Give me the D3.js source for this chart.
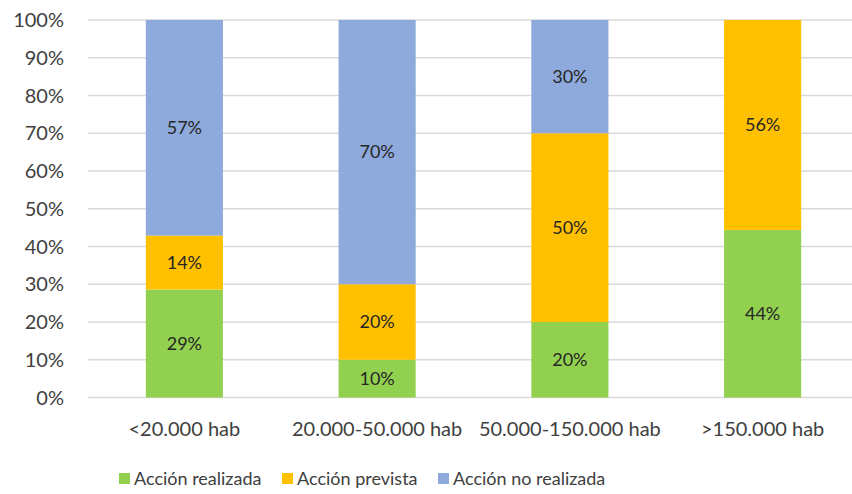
<!DOCTYPE html>
<html>
<head>
<meta charset="utf-8">
<script src="https://cdn.jsdelivr.net/npm/d3@7"></script>
<style>
  body { margin: 0; background: #fff; }
  text { font-family: Lato, "Open Sans", sans-serif; }
</style>
</head>
<body>
<div id="paper"></div>
<script>
// data
const categories = ["<20.000 hab", "20.000-50.000 hab", "50.000-150.000 hab", ">150.000 hab"];
const seriesNames = ["Acción realizada", "Acción prevista", "Acción no realizada"];
const realizada = [28.6, 10, 20, 44.4];
const prevista = [14.3, 20, 50, 55.6];
const noRealizada = [57.1, 70, 30, 0];
const yTicks = [0, 10, 20, 30, 40, 50, 60, 70, 80, 90, 100];
const colors = ["#92D050", "#FFC000", "#8EA9DB"];

const W = 852, H = 494;
const margin = {left: 88, right: -7, top: 20, bottom: 96};

const svg = d3.select("#paper")
  .append("svg")
  .attr("id", "canvas")
  .attr("width", W)
  .attr("height", H);

const x = d3.scaleBand()
  .domain(categories)
  .range([margin.left, W - margin.right])
  .paddingInner(0.6)
  .paddingOuter(0.3);

const y = d3.scaleLinear()
  .domain([0, 100])
  .range([H - margin.bottom - 0.5, margin.top]);

// gridlines
svg.selectAll(".grid")
  .data(yTicks)
  .join("line")
  .attr("class", "grid")
  .attr("x1", margin.left)
  .attr("x2", W - margin.right)
  .attr("y1", d => y(d))
  .attr("y2", d => y(d))
  .attr("stroke", "#d9d9d9")
  .attr("stroke-width", 1.5);

// y tick labels
svg.selectAll(".ytick")
  .data(yTicks)
  .join("text")
  .attr("class", "ytick")
  .attr("x", 64)
  .attr("y", d => y(d))
  .attr("dy", "0.35em")
  .attr("text-anchor", "end")
  .attr("font-size", "20px")
  .attr("fill", "#404040")
  .text(d => d + "%");

const rows = categories.map((c, i) => ({cat: c, s0: realizada[i], s1: prevista[i], s2: noRealizada[i]}));
const stack = d3.stack().keys(["s0", "s1", "s2"])(rows);

const layers = svg.selectAll(".layer")
  .data(stack)
  .join("g")
  .attr("class", "layer")
  .attr("fill", (d, i) => colors[i]);

layers.selectAll("rect")
  .data(d => d.filter(p => p[1] - p[0] > 0))
  .join("rect")
  .attr("x", d => x(d.data.cat))
  .attr("width", x.bandwidth())
  .attr("y", d => y(d[1]))
  .attr("height", d => y(d[0]) - y(d[1]));

layers.selectAll(".vlabel")
  .data(d => d.filter(p => p[1] - p[0] > 0))
  .join("text")
  .attr("class", "vlabel")
  .attr("x", d => x(d.data.cat) + x.bandwidth() / 2)
  .attr("y", d => y((d[0] + d[1]) / 2))
  .attr("dy", "0.35em")
  .attr("text-anchor", "middle")
  .attr("font-size", "18px")
  .attr("fill", "#262626")
  .text(d => Math.round(d[1] - d[0]) + "%");

// category labels
svg.selectAll(".xtick")
  .data(categories)
  .join("text")
  .attr("class", "xtick")
  .attr("x", d => x(d) + x.bandwidth() / 2)
  .attr("y", 429)
  .attr("dy", "0.35em")
  .attr("text-anchor", "middle")
  .attr("font-size", "20px")
  .attr("fill", "#404040")
  .text(d => d);

// legend
const legendX = [119, 282, 438];
const legend = svg.selectAll(".legend")
  .data(seriesNames)
  .join("g")
  .attr("class", "legend")
  .attr("transform", (d, i) => `translate(${legendX[i]},479)`);

legend.append("rect")
  .attr("x", 0)
  .attr("y", -6)
  .attr("width", 11)
  .attr("height", 11)
  .attr("fill", (d, i) => colors[i]);

legend.append("text")
  .attr("x", 15)
  .attr("y", 0)
  .attr("dy", "0.35em")
  .attr("font-size", "18px")
  .attr("fill", "#404040")
  .text(d => d);
</script>
</body>
</html>
